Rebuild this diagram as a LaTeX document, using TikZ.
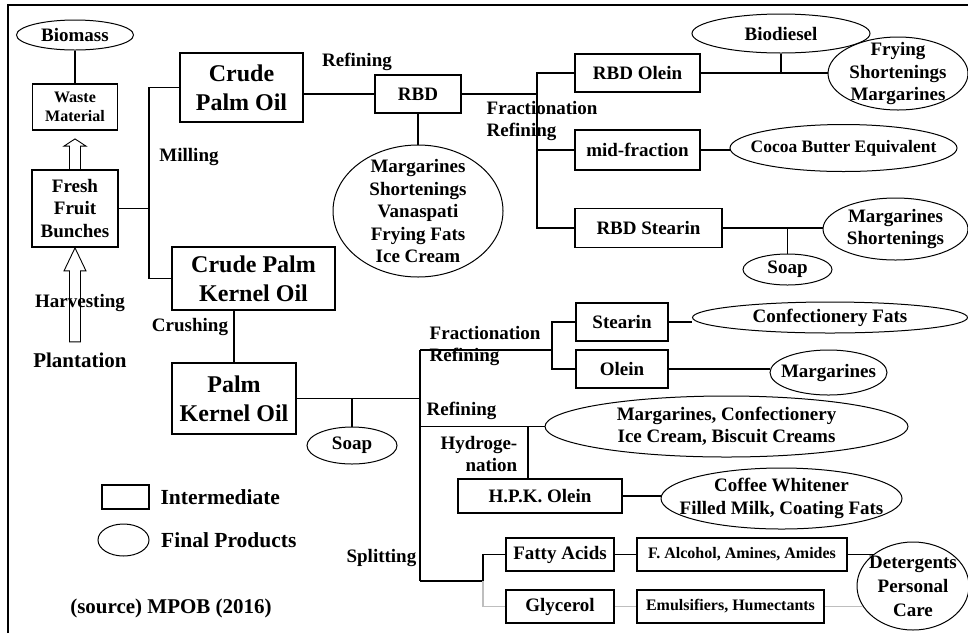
\documentclass[tikz,border=0pt]{standalone}
\usepackage{fontspec}
\setmainfont{Liberation Serif}
\usepackage{tikz}
\usetikzlibrary{shapes,calc,positioning}
\definecolor{lgray}{RGB}{190,190,190}

\begin{document}
\begin{tikzpicture}[x=1pt, y=-1pt, line width=1.4pt,
  every node/.style={font=\bfseries\fontsize{19}{22.5}\selectfont, align=center, inner sep=1pt},
  inter/.style={draw, rectangle, line width=1.8pt},
  final/.style={draw, ellipse, line width=1pt, inner sep=-40pt},
  big/.style={font=\bfseries\fontsize{24}{29}\selectfont},
  small/.style={font=\bfseries\fontsize{16}{19}\selectfont},
  legend/.style={font=\bfseries\fontsize{21.5}{25}\selectfont},
  hollow/.style={line width=0.9pt}]
\useasboundingbox (0,0) rectangle (968,633);
\draw[line width=2.5pt] (8,633) -- (8,5) -- (968,5);

\node[final, minimum width=117pt, minimum height=30pt] (biomass) at (75,35) {Biomass};
\node[inter, small, minimum width=85pt, minimum height=46pt] (waste) at (75,107) {Waste\\Material};
\node[inter, minimum width=86pt, minimum height=77pt] (ffb) at (75,208.5) {Fresh\\Fruit\\Bunches};
\node (harvest) at (80,303) {Harvesting};
\node[font=\bfseries\fontsize{21}{25}\selectfont] (plant) at (80,360) {Plantation};

\node[inter, big, minimum width=123pt, minimum height=69pt] (cpo) at (241.5,87.5) {Crude\\Palm Oil};
\node[inter, big, minimum width=163pt, minimum height=63pt] (cpko) at (253.5,278.5) {Crude Palm\\Kernel Oil};
\node (milling) at (189,157) {Milling};
\node[inter, minimum width=86pt, minimum height=38pt] (rbd) at (418,94) {RBD};
\node (refine1) at (357,62) {Refining};
\node[final, minimum width=170pt, minimum height=132pt] (rbdprod) at (418,211) {Margarines\\Shortenings\\Vanaspati\\Frying Fats\\Ice Cream};
\node[anchor=west, align=left] (frac1) at (485,121) {Fractionation\\Refining};
\node[inter, minimum width=125pt, minimum height=38pt] (rbdolein) at (637.5,73) {RBD Olein};
\node[inter, minimum width=125pt, minimum height=40pt] (midfrac) at (637.5,150) {mid-fraction};
\node[inter, minimum width=147pt, minimum height=39pt] (rbdstearin) at (648.5,228) {RBD Stearin};
\node[final, minimum width=178pt, minimum height=39pt] (biodiesel) at (781,33.5) {Biodiesel};
\node[final, minimum width=140pt, minimum height=73pt] (frying) at (898,73.5) {Frying\\Shortenings\\Margarines};
\node[final, font=\bfseries\fontsize{17.5}{21}\selectfont, minimum width=227pt, minimum height=47pt] (cocoa) at (843.5,148) {Cocoa Butter Equivalent};
\node[final, minimum width=145pt, minimum height=62pt] (margshort) at (895.5,229) {Margarines\\Shortenings};
\node[final, minimum width=89pt, minimum height=31pt] (soapA) at (787.5,269.5) {Soap};

\node (crush) at (190,327) {Crushing};
\node[inter, big, minimum width=124pt, minimum height=71pt] (pko) at (234,398.5) {Palm\\Kernel Oil};
\node[final, minimum width=90pt, minimum height=37pt] (soapB) at (352,445.5) {Soap};
\node[anchor=west, align=left] (frac2) at (428,346) {Fractionation\\Refining};
\node[inter, minimum width=92pt, minimum height=38pt] (stearin) at (622,322) {Stearin};
\node[inter, minimum width=92pt, minimum height=38pt] (olein) at (622,369) {Olein};
\node[final, minimum width=275pt, minimum height=31pt] (confect) at (830,317.5) {Confectionery Fats};
\node[final, minimum width=117pt, minimum height=45pt] (marg) at (828.5,372.5) {Margarines};
\node[anchor=west] (refine2) at (425,411) {Refining};
\node[final, minimum width=363pt, minimum height=61pt] (margconf) at (726.5,426.5) {Margarines, Confectionery\\Ice Cream, Biscuit Creams};
\node[anchor=east, align=right] (hydro) at (519,454) {Hydroge-\\nation};
\node[inter, minimum width=164pt, minimum height=34pt] (hpk) at (540,496) {H.P.K. Olein};
\node[final, minimum width=241pt, minimum height=61pt] (coffee) at (781.5,498.5) {Coffee Whitener\\Filled Milk, Coating Fats};
\node[anchor=east] (split) at (418,558) {Splitting};
\node[inter, minimum width=108pt, minimum height=33pt] (fatty) at (560,554.5) {Fatty Acids};
\node[inter, small, minimum width=210pt, minimum height=33pt] (falc) at (742,554.5) {F. Alcohol, Amines, Amides};
\node[inter, minimum width=108pt, minimum height=33pt] (glycerol) at (560,606.5) {Glycerol};
\node[inter, small, minimum width=187pt, minimum height=33pt] (emuls) at (730.5,606.5) {Emulsifiers, Humectants};
\node[final, font=\bfseries\fontsize{19}{24}\selectfont, minimum width=112pt, minimum height=88pt] (deterg) at (913,586) {Detergents\\Personal\\Care};

% legend
\node[inter, minimum width=47pt, minimum height=24pt] (keybox) at (125.5,497) {};
\node[final, minimum width=51pt, minimum height=32pt] (keyell) at (123.5,540) {};
\node[legend, right=9pt of keybox] (keyinter) {Intermediate};
\node[legend, right=10pt of keyell] (keyfinal) {Final Products};
\node[font=\bfseries\fontsize{21}{25}\selectfont] (source) at (171,608) {(source) MPOB (2016)};

% open arrows
\draw[hollow] ($(ffb.north)+(-5.5,0)$) -- ++(0,-23) -- ++(-5.5,0) -- ($(waste.south)+(0,8)$)
  -- ($(ffb.north)+(11,-23)$) -- ++(-5.5,0) -- ++(0,23);
\draw[hollow] ($(ffb.south)+(-5.5,94)$) -- ++(0,-71) -- ++(-5.5,0) -- (ffb.south)
  -- ++(11,23) -- ++(-5.5,0) -- ++(0,71) -- cycle;

% connectors
\coordinate (mill) at (149,208.5);
\coordinate (fr1) at (537,94);
\coordinate (trtop) at (420,350);
\coordinate (trref) at (420,426.5);
\coordinate (trend) at (420,581);
\coordinate (fr2) at (552,350);
\coordinate (hy) at (528,426.5);
\coordinate (sp) at (483,581);

\draw (biomass) -- (waste);
\draw (ffb.east) -- (mill);
\draw (cpo.west) -| (mill) |- (cpko.west);
\draw (rbd.west) -- (rbd.west -| cpo.east);
\draw (rbd.south) -- (rbdprod.north);
\draw (rbd.east) -- (fr1);
\draw (rbdolein.west) -| (fr1) |- (rbdstearin.west);
\draw (midfrac.west) -- (midfrac.west -| fr1);
\draw (rbdolein.east) -- (rbdolein.east -| frying.west);
\draw (biodiesel.south) -- (biodiesel.south |- rbdolein.east);
\draw (midfrac.east) -- (midfrac.east -| cocoa.west);
\draw (rbdstearin.east) -- (rbdstearin.east -| margshort.west);
\draw (soapA.north) -- (soapA.north |- rbdstearin.east);

\draw (pko.north) -- (pko.north |- cpko.south);
\draw (trtop) -- (trend);
\draw (pko.east) -- (pko.east -| trtop);
\draw (soapB.north) -- (soapB.north |- pko.east);
\draw (trtop) -- (fr2);
\draw (stearin.west) -| (fr2) |- (olein.west);
\draw (stearin.east) -- (stearin.east -| confect.west);
\draw (olein.east) -- (olein.east -| marg.west);
\draw (trref) -- (margconf.west);
\draw (hy) -- (hy |- hpk.north);
\draw (hpk.east) -- (hpk.east -| coffee.west);
\draw (trend) -- (sp);
\draw (fatty.west) -| (sp);
\draw[lgray] (sp) |- (glycerol.west);
\draw (fatty.east) -- (falc.west);
\draw (falc.east) -- (falc.east -| deterg.140);
\draw[lgray] (glycerol.east) -- (emuls.west);
\draw[lgray] (emuls.east) -- (emuls.east -| deterg.202);
\end{tikzpicture}
\end{document}
